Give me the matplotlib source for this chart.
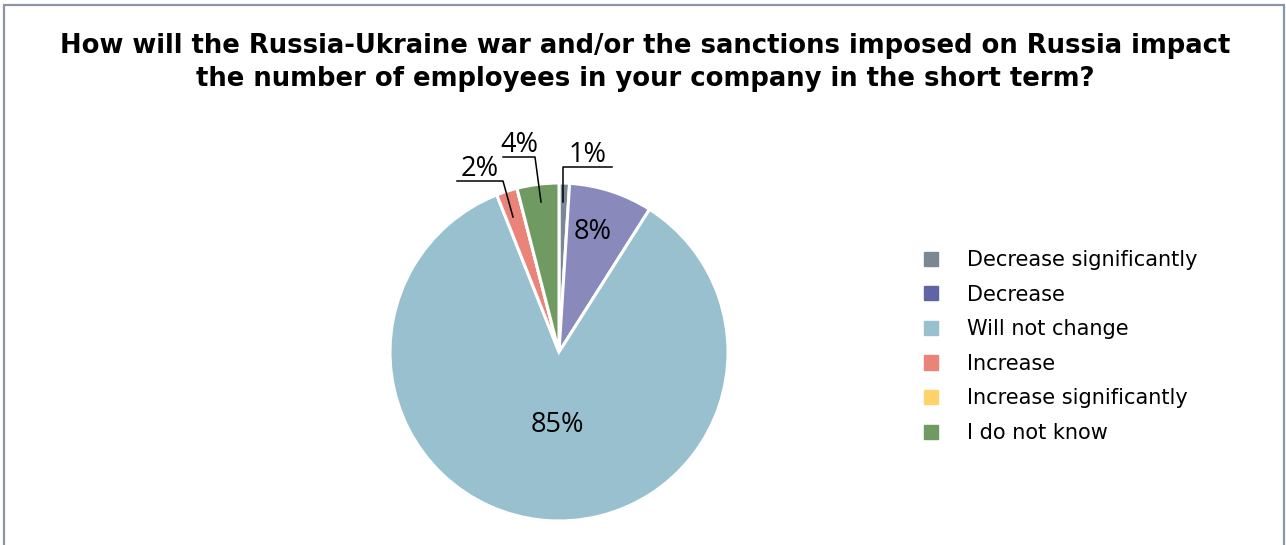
import matplotlib
matplotlib.use("Agg")
import matplotlib.pyplot as plt
from matplotlib.patches import Patch, Rectangle
import numpy as np

categories = ["Decrease significantly", "Decrease", "Will not change",
              "Increase", "Increase significantly", "I do not know"]
shares = [1, 8, 85, 2, 0, 4]
slice_colors = ["#7b8794", "#8a89bc", "#98c0cf", "#ea8479", "#ffd36b", "#6f9a62"]
legend_colors = ["#7b8794", "#5f64a6", "#98c0cf", "#ea8479", "#ffd36b", "#6f9a62"]
title = ("How will the Russia-Ukraine war and/or the sanctions imposed on Russia impact\n"
         "the number of employees in your company in the short term?")

W, H = 1286, 545
fig = plt.figure(figsize=(W / 100, H / 100), dpi=100)
fig.patch.set_facecolor("white")

# outer frame
fig.add_artist(Rectangle((3.5 / W, -0.05), (W - 6) / W, (H - 5) / H + 0.05,
                         transform=fig.transFigure, fill=False,
                         edgecolor="#8a96a3", linewidth=1.6))

fig.text(645 / W, 1 - 62.5 / H, title, ha="center", va="center",
         fontsize=18.6, fontweight="bold", family="DejaVu Sans",
         linespacing=1.32)

# pie axes: centre (559, 352) px, radius 169 px
cx, cy, r = 559, 352, 169
ax = fig.add_axes([(cx - r) / W, (H - cy - r) / H, 2 * r / W, 2 * r / H])
wedges, _ = ax.pie(shares, colors=slice_colors, startangle=90, counterclock=False,
                   radius=1.0, wedgeprops=dict(edgecolor="white", linewidth=2.2))
ax.set_xlim(-1, 1)
ax.set_ylim(-1, 1)
ax.axis("off")

label_font = dict(family="Open Sans", fontsize=19.5, color="black")

def to_ax(px, py):
    return ((px - cx) / r, (cy - py) / r)

# inside labels for the large slices
inside = [(1, (593, 232)), (2, (557, 425))]
for idx, pos in inside:
    x, y = to_ax(*pos)
    ax.text(x, y, f"{shares[idx]}%", ha="center", va="center", **label_font)

# outside labels with leader lines for the small slices
# (slice index, anchor inside slice px, elbow px, end of underline px)
callouts = [
    (0, (563, 202), (563, 167), (612, 167)),
    (5, (541, 202), (535, 157), (503, 157)),
    (3, (513, 217), (503, 181), (457, 181)),
]
for idx, a, e, t in callouts:
    pts = [to_ax(*a), to_ax(*e), to_ax(*t)]
    xs, ys = zip(*pts)
    ax.plot(xs, ys, color="black", linewidth=1.1, clip_on=False)
    xm = (pts[1][0] + pts[2][0]) / 2
    ax.text(xm, pts[1][1] - 0.01, f"{shares[idx]}%", ha="center", va="bottom",
            clip_on=False, **label_font)

handles = [Patch(facecolor=c, edgecolor=c) for c in legend_colors]
fig.legend(handles, categories, loc="upper left",
           bbox_to_anchor=(924 / W, 1 - 250 / H), frameon=False,
           prop=dict(family="DejaVu Sans", size=15),
           borderpad=0, borderaxespad=0,
           handlelength=0.67, handleheight=0.67, handletextpad=1.4,
           labelspacing=0.7)

fig.savefig("out.png", dpi=100, facecolor="white")
